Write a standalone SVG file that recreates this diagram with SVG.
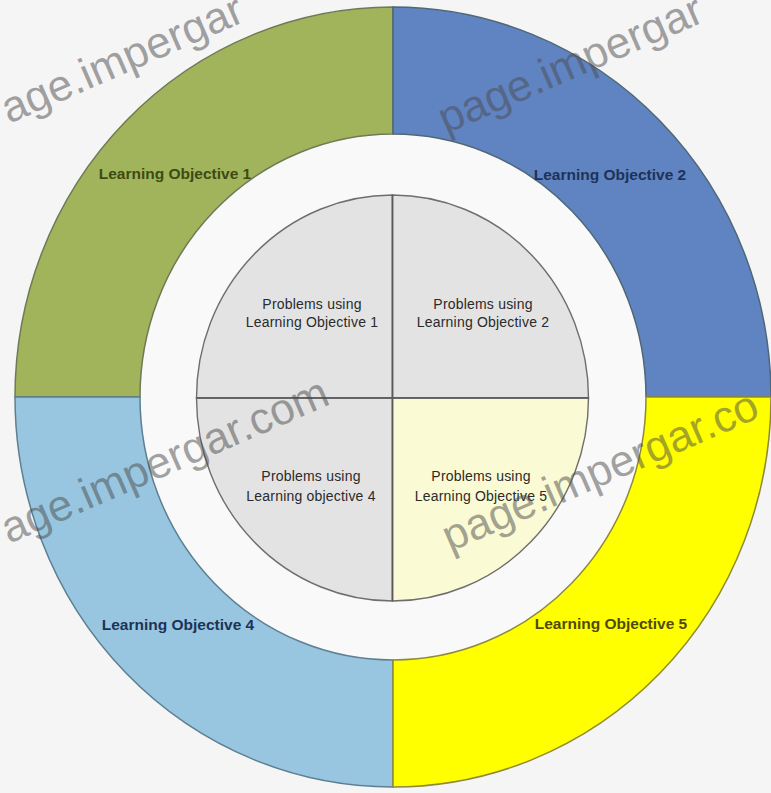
<svg xmlns="http://www.w3.org/2000/svg" width="771" height="793" viewBox="0 0 771 793">
  <style>
    .ring { stroke-width: 1.5; }
    .cell { stroke: #6e6e6e; stroke-width: 1.4; }
    .lo { font-family: "Liberation Sans", Arial, sans-serif; font-size: 15.5px; font-weight: bold; text-anchor: middle; }
    .pb { font-family: "Liberation Sans", Arial, sans-serif; font-size: 14px; fill: #2a2a2a; text-anchor: middle; letter-spacing: 0.2px; }
    .wm { font-family: "Liberation Sans", Arial, sans-serif; font-size: 44px; fill: #4a4a4a; fill-opacity: 0.5; }
  </style>

  <!-- page background -->
  <rect x="0" y="0" width="771" height="793" fill="#f5f5f6"/>

  <!-- white gap between the outer ring and the inner disc -->
  <ellipse cx="393" cy="397" rx="253" ry="263" fill="#f9f9f9"/>

  <!-- outer ring: four learning objectives -->
  <g id="lo1">
    <path class="ring" d="M 15,397 A 378 390 0 0 1 393,7 L 393,134 A 253 263 0 0 0 140,397 Z" fill="#a1b45b" stroke="#6f7a55"/>
    <text class="lo" x="175" y="179" fill="#3e4a14">Learning Objective 1</text>
  </g>
  <g id="lo2">
    <path class="ring" d="M 393,7 A 378 390 0 0 1 771,397 L 646,397 A 253 263 0 0 0 393,134 Z" fill="#6083c2" stroke="#4f6878"/>
    <text class="lo" x="610" y="180" fill="#1c3358">Learning Objective 2</text>
  </g>
  <g id="lo4">
    <path class="ring" d="M 393,787 A 378 390 0 0 1 15,397 L 140,397 A 253 263 0 0 0 393,660 Z" fill="#98c6e0" stroke="#5d7f90"/>
    <text class="lo" x="178" y="630" fill="#1c3358">Learning Objective 4</text>
  </g>
  <g id="lo5">
    <path class="ring" d="M 771,397 A 378 390 0 0 1 393,787 L 393,660 A 253 263 0 0 0 646,397 Z" fill="#ffff00" stroke="#8f8a3a"/>
    <text class="lo" x="611" y="629" fill="#4f4a08">Learning Objective 5</text>
  </g>

  <!-- inner disc: problem sets -->
  <g id="p1">
    <path class="cell" d="M 196.5,398 A 196 203 0 0 1 392.5,195 L 392.5,398 Z" fill="#e3e3e3"/>
    <text class="pb" x="312" y="309">Problems using</text>
    <text class="pb" x="312" y="327">Learning Objective 1</text>
  </g>
  <g id="p2">
    <path class="cell" d="M 392.5,195 A 196 203 0 0 1 588.5,398 L 392.5,398 Z" fill="#e3e3e3"/>
    <text class="pb" x="483" y="309">Problems using</text>
    <text class="pb" x="483" y="327">Learning Objective 2</text>
  </g>
  <g id="p4">
    <path class="cell" d="M 392.5,601 A 196 203 0 0 1 196.5,398 L 392.5,398 Z" fill="#e3e3e3"/>
    <text class="pb" x="311" y="481">Problems using</text>
    <text class="pb" x="311" y="501">Learning objective 4</text>
  </g>
  <g id="p5">
    <path class="cell" d="M 588.5,398 A 196 203 0 0 1 392.5,601 L 392.5,398 Z" fill="#fafad4"/>
    <text class="pb" x="481" y="481">Problems using</text>
    <text class="pb" x="481" y="501">Learning Objective 5</text>
  </g>

  <!-- dividers through the disc -->
  <g id="connectors" stroke="#5a5a5a" stroke-width="1.6" fill="none">
    <line x1="196.5" y1="398" x2="588.5" y2="398"/>
    <line x1="392.5" y1="195" x2="392.5" y2="601"/>
  </g>

  <!-- repeated site mark, only the parts that fall inside the page -->
  <g id="marks">
    <text class="wm" transform="translate(9,124) rotate(-23.5)">age.impergar</text>
    <text class="wm" transform="translate(446,134) rotate(-23.5)">page.impergar</text>
    <text class="wm" transform="translate(9,544) rotate(-23.5)">age.impergar.com</text>
    <text class="wm" transform="translate(450,552) rotate(-23.5)">page.impergar.co</text>
  </g>
</svg>
